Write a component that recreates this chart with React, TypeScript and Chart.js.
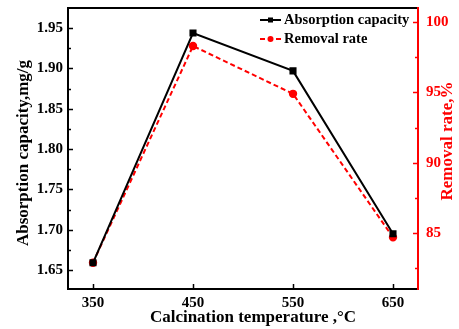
import React, { useEffect, useRef } from "react";
import { Chart, registerables } from "chart.js";

Chart.register(...registerables);

const temperatures = [350, 450, 550, 650];
const absorptionCapacity = [1.659, 1.944, 1.897, 1.695];
const removalRate = [82.9, 98.3, 94.9, 84.7];

const xTicks = [350, 450, 550, 650];
const leftTicks = [1.65, 1.7, 1.75, 1.8, 1.85, 1.9, 1.95];
const leftMinorTicks = [1.675, 1.725, 1.775, 1.825, 1.875, 1.925];
const rightTicks = [85, 90, 95, 100];
const rightMinorTicks = [82.5, 87.5, 92.5, 97.5];

const seriesNames = ["Absorption capacity", "Removal rate"];
const xTitle = "Calcination temperature ,\u00B0C";
const leftTitle = "Absorption capacity,mg/g";
const rightTitle = "Removal rate,%";

const FONT = "'Liberation Serif', 'Times New Roman', serif";
const RED = "#ff0000";

const decorPlugin = {
  id: "decor",
  afterDatasetsDraw(chart: any) {
    const ctx = chart.ctx;
    const { left, right, top, bottom } = chart.chartArea;
    const xs = chart.scales.x;
    const yl = chart.scales.y;
    const yr = chart.scales.y1;
    ctx.save();
    // frame
    ctx.lineWidth = 2;
    ctx.strokeStyle = "#000";
    ctx.beginPath();
    ctx.moveTo(right, top);
    ctx.lineTo(left, top);
    ctx.lineTo(left, bottom);
    ctx.lineTo(right, bottom);
    ctx.stroke();
    ctx.strokeStyle = RED;
    ctx.beginPath();
    ctx.moveTo(right, top - 1);
    ctx.lineTo(right, bottom + 1);
    ctx.stroke();
    // ticks
    ctx.lineWidth = 1.5;
    ctx.strokeStyle = "#000";
    ctx.beginPath();
    xTicks.forEach((v) => {
      const p = Math.round(xs.getPixelForValue(v)) + 0.5;
      ctx.moveTo(p, bottom);
      ctx.lineTo(p, bottom - 5);
    });
    leftTicks.forEach((v) => {
      const p = Math.round(yl.getPixelForValue(v)) + 0.5;
      ctx.moveTo(left, p);
      ctx.lineTo(left + 5, p);
    });
    leftMinorTicks.forEach((v) => {
      const p = Math.round(yl.getPixelForValue(v)) + 0.5;
      ctx.moveTo(left, p);
      ctx.lineTo(left + 3, p);
    });
    ctx.stroke();
    ctx.strokeStyle = RED;
    ctx.beginPath();
    rightTicks.forEach((v) => {
      const p = Math.round(yr.getPixelForValue(v)) + 0.5;
      ctx.moveTo(right, p);
      ctx.lineTo(right - 5, p);
    });
    rightMinorTicks.forEach((v) => {
      const p = Math.round(yr.getPixelForValue(v)) + 0.5;
      ctx.moveTo(right, p);
      ctx.lineTo(right - 3, p);
    });
    ctx.stroke();

    // legend
    ctx.font = `bold 14.5px ${FONT}`;
    ctx.textBaseline = "middle";
    ctx.textAlign = "left";
    const lx0 = 260;
    const lx1 = 281;
    const rows = [20, 39];
    ctx.lineWidth = 2;
    ctx.strokeStyle = "#000";
    ctx.setLineDash([]);
    ctx.beginPath();
    ctx.moveTo(lx0, rows[0]);
    ctx.lineTo(lx1, rows[0]);
    ctx.stroke();
    ctx.fillStyle = "#000";
    ctx.fillRect((lx0 + lx1) / 2 - 2.5, rows[0] - 2.5, 5, 5);
    ctx.fillText(seriesNames[0], 284, rows[0]);
    ctx.strokeStyle = RED;
    ctx.setLineDash([5, 3]);
    ctx.beginPath();
    ctx.moveTo(lx0, rows[1]);
    ctx.lineTo(lx1, rows[1]);
    ctx.stroke();
    ctx.setLineDash([]);
    ctx.fillStyle = RED;
    ctx.beginPath();
    ctx.arc((lx0 + lx1) / 2, rows[1], 3, 0, Math.PI * 2);
    ctx.fill();
    ctx.fillStyle = "#000";
    ctx.fillText(seriesNames[1], 284, rows[1]);

    // titles
    ctx.font = `bold 17px ${FONT}`;
    ctx.textAlign = "center";
    ctx.textBaseline = "middle";
    ctx.fillStyle = "#000";
    ctx.fillText(xTitle, 253, 318);
    ctx.save();
    ctx.translate(24, 153);
    ctx.rotate(-Math.PI / 2);
    ctx.fillText(leftTitle, 0, 0);
    ctx.restore();
    ctx.save();
    ctx.fillStyle = RED;
    ctx.translate(448, 141);
    ctx.rotate(-Math.PI / 2);
    ctx.fillText(rightTitle, 0, 0);
    ctx.restore();
    ctx.restore();
  },
};

export default function App() {
  const ref = useRef<HTMLCanvasElement | null>(null);
  useEffect(() => {
    if (!ref.current) return;
    const tickFont = { family: FONT, size: 15, weight: "bold" as const };
    const chart = new Chart(ref.current, {
      type: "line",
      data: {
        datasets: [
          {
            label: seriesNames[0],
            data: temperatures.map((t, i) => ({ x: t, y: absorptionCapacity[i] })),
            yAxisID: "y",
            borderColor: "#000",
            backgroundColor: "#000",
            borderWidth: 2,
            pointStyle: "rect",
            pointRadius: 3.6,
            pointHoverRadius: 3.6,
            tension: 0,
          },
          {
            label: seriesNames[1],
            data: temperatures.map((t, i) => ({ x: t, y: removalRate[i] })),
            yAxisID: "y1",
            borderColor: RED,
            backgroundColor: RED,
            borderWidth: 2,
            borderDash: [5, 3],
            pointStyle: "circle",
            pointRadius: 3.2,
            pointHoverRadius: 3.2,
            tension: 0,
          },
        ],
      },
      options: {
        responsive: false,
        animation: false,
        devicePixelRatio: 1,
        layout: { padding: { top: 8, left: 0, right: 0, bottom: 0 } },
        plugins: { legend: { display: false }, tooltip: { enabled: false } },
        scales: {
          x: {
            type: "linear",
            min: 325,
            max: 675,
            grid: { display: false, drawTicks: false, tickLength: 0 },
            border: { display: false },
            afterBuildTicks: (s: any) => {
              s.ticks = xTicks.map((v) => ({ value: v }));
            },
            afterFit: (s: any) => {
              s.height = 40;
            },
            ticks: {
              color: "#000",
              font: tickFont,
              padding: 5,
              maxRotation: 0,
              autoSkip: false,
              callback: (v: any) => String(v),
            },
          },
          y: {
            type: "linear",
            position: "left",
            min: 1.6265,
            max: 1.975,
            grid: { display: false, drawTicks: false, tickLength: 0 },
            border: { display: false },
            afterBuildTicks: (s: any) => {
              s.ticks = leftTicks.map((v) => ({ value: v }));
            },
            afterFit: (s: any) => {
              s.width = 68;
              s.paddingTop = 0;
              s.paddingBottom = 0;
            },
            ticks: {
              color: "#000",
              font: tickFont,
              padding: 5,
              autoSkip: false,
              callback: (v: any) => Number(v).toFixed(2),
            },
          },
          y1: {
            type: "linear",
            position: "right",
            min: 81.03,
            max: 101,
            grid: { display: false, drawTicks: false, tickLength: 0 },
            border: { display: false },
            afterBuildTicks: (s: any) => {
              s.ticks = rightTicks.map((v) => ({ value: v }));
            },
            afterFit: (s: any) => {
              s.width = 41;
              s.paddingTop = 0;
              s.paddingBottom = 0;
            },
            ticks: {
              color: RED,
              font: tickFont,
              padding: 8,
              autoSkip: false,
              callback: (v: any) => String(v),
            },
          },
        },
      },
      plugins: [decorPlugin],
    });
    return () => chart.destroy();
  }, []);
  return (
    <div style={{ position: "fixed", left: 0, top: 0, width: 459, height: 329, background: "#fff" }}>
      <canvas ref={ref} width={459} height={329} />
    </div>
  );
}
